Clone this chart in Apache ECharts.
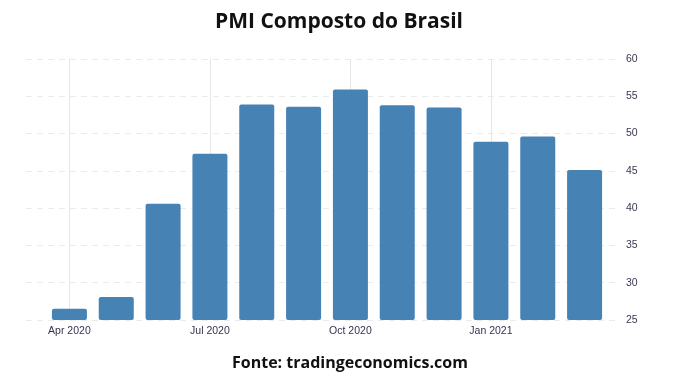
<!DOCTYPE html>
<html>
<head>
<meta charset="utf-8">
<script src="https://cdn.jsdelivr.net/npm/echarts@6/dist/echarts.min.js"></script>
<style>
html,body{margin:0;padding:0;background:#fff;}
#chart{width:678px;height:384px;}
</style>
</head>
<body>
<div id="chart"></div>
<script>
const months = ['Apr 2020','May 2020','Jun 2020','Jul 2020','Aug 2020','Sep 2020','Oct 2020','Nov 2020','Dec 2020','Jan 2021','Feb 2021','Mar 2021'];
const pmiValues = [26.5, 28.1, 40.6, 47.3, 53.9, 53.6, 55.9, 53.8, 53.5, 48.9, 49.6, 45.1];
const xTickLabels = ['Apr 2020','Jul 2020','Oct 2020','Jan 2021'];
const yTicks = [25, 30, 35, 40, 45, 50, 55, 60];
const titleText = 'PMI Composto do Brasil';
const sourceText = 'Fonte: tradingeconomics.com';

const chart = echarts.init(document.getElementById('chart'));
chart.setOption({
  backgroundColor: '#ffffff',
  animation: false,
  title: [
    {text: titleText, left: 'center', top: 7,
     textStyle: {fontFamily: 'Open Sans', fontWeight: 'bold', fontSize: 21, color: '#111'}},
    {text: sourceText, left: 227, top: 350,
     textStyle: {fontFamily: 'Open Sans', fontWeight: 'bold', fontSize: 16, color: '#111'}}
  ],
  grid: [
    {left: 26, right: 58, top: 59, bottom: 64},
    {left: 46, right: 70, top: 59, bottom: 64}
  ],
  xAxis: [
    {gridIndex: 0, type: 'value', min: 0, max: 1, show: false},
    {gridIndex: 1, type: 'category', data: months,
     axisLine: {show: false}, axisTick: {show: false}, splitLine: {show: false},
     axisLabel: {
       margin: 6, fontSize: 10.5, color: '#3a3050', fontFamily: 'Liberation Sans',
       interval: 0,
       formatter: v => xTickLabels.indexOf(v) >= 0 ? v : ''
     }}
  ],
  yAxis: [
    {gridIndex: 0, type: 'value', position: 'right', min: yTicks[0], max: yTicks[yTicks.length-1], interval: 5,
     axisLine: {show: false}, axisTick: {show: false},
     axisLabel: {margin: 6, fontSize: 10.5, color: '#3a3a50', fontFamily: 'Liberation Sans'},
     splitLine: {show: true, lineStyle: {color: '#ebebeb', type: [6, 5], width: 1}}},
    {gridIndex: 1, type: 'value', min: yTicks[0], max: yTicks[yTicks.length-1], interval: 5, show: false}
  ],
  series: [
    {type: 'line', xAxisIndex: 1, yAxisIndex: 1, data: [], z: 1, silent: true,
     markLine: {silent: true, z: 1, symbol: 'none', label: {show: false},
       lineStyle: {color: '#e6e6e6', type: 'solid', width: 1},
       data: xTickLabels.map(m => ({xAxis: m}))}},
    {type: 'bar', xAxisIndex: 1, yAxisIndex: 1, data: pmiValues, z: 3,
     barWidth: 35,
     itemStyle: {color: '#4682b4', borderRadius: 2}}
  ]
});
</script>
</body>
</html>
